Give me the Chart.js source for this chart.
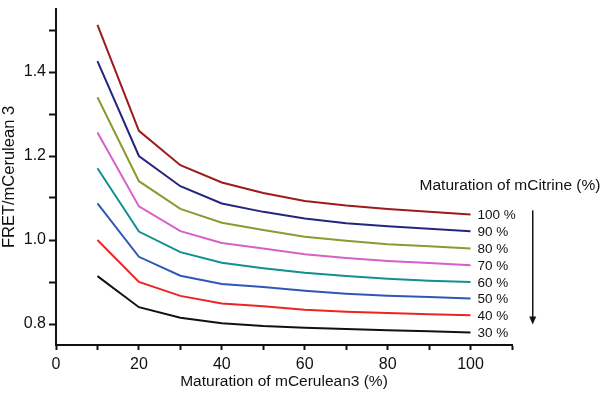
<!DOCTYPE html>
<html>
<head>
<meta charset="utf-8">
<script src="https://cdn.jsdelivr.net/npm/chart.js@4/dist/chart.umd.min.js"></script>
<style>
html,body{margin:0;padding:0;background:#fff;}
#wrap{width:601px;height:402px;}
</style>
</head>
<body>
<div id="wrap"><canvas id="c" width="601" height="402"></canvas></div>
<script>
const xValues = [10, 20, 30, 40, 50, 60, 70, 80, 90, 100];
const m100 = [1.512, 1.260, 1.178, 1.137, 1.112, 1.093, 1.082, 1.074, 1.067, 1.061];
const m90  = [1.426, 1.200, 1.128, 1.087, 1.067, 1.051, 1.040, 1.033, 1.027, 1.021];
const m80  = [1.340, 1.140, 1.074, 1.041, 1.024, 1.008, 0.998, 0.990, 0.985, 0.980];
const m70  = [1.256, 1.080, 1.021, 0.993, 0.980, 0.966, 0.957, 0.950, 0.945, 0.940];
const m60  = [1.171, 1.020, 0.971, 0.946, 0.933, 0.922, 0.914, 0.908, 0.903, 0.900];
const m50  = [1.087, 0.960, 0.915, 0.895, 0.888, 0.879, 0.872, 0.867, 0.864, 0.861];
const m40  = [1.000, 0.900, 0.867, 0.849, 0.842, 0.834, 0.829, 0.826, 0.823, 0.821];
const m30  = [0.914, 0.840, 0.815, 0.802, 0.795, 0.791, 0.788, 0.785, 0.783, 0.780];
const seriesLabels = ['100 %', '90 %', '80 %', '70 %', '60 %', '50 %', '40 %', '30 %'];
const seriesColors = ['#9e1b1b', '#25257f', '#8c9a30', '#d75fca', '#10908f', '#2f58b6', '#ee2424', '#111111'];
const xTickValues = [0, 10, 20, 30, 40, 50, 60, 70, 80, 90, 100, 110];
const xTickLabels = ['0', '', '20', '', '40', '', '60', '', '80', '', '100', ''];
const yTickValues = [0.8, 0.9, 1.0, 1.1, 1.2, 1.3, 1.4, 1.5];
const yTickLabels = ['0.8', '', '1.0', '', '1.2', '', '1.4', ''];
const xTitle = 'Maturation of mCerulean3 (%)';
const yTitle = 'FRET/mCerulean 3';
const legendTitle = 'Maturation of mCitrine (%)';

const allSeries = [m100, m90, m80, m70, m60, m50, m40, m30];
const datasets = allSeries.map((s, i) => ({
  label: seriesLabels[i],
  data: xValues.map((x, j) => ({x: x, y: s[j]})),
  borderColor: seriesColors[i],
  backgroundColor: seriesColors[i],
  borderWidth: 2,
  pointRadius: 0,
  tension: 0,
  fill: false
}));

const FONT = "'Liberation Sans', Arial, sans-serif";

const annotate = {
  id: 'annotate',
  afterDatasetsDraw(chart) {
    const ctx = chart.ctx;
    const xs = chart.scales.x, ys = chart.scales.y;
    ctx.save();
    ctx.fillStyle = '#111';
    ctx.font = '13.5px ' + FONT;
    ctx.textBaseline = 'middle';
    ctx.textAlign = 'left';
    const xEnd = xs.getPixelForValue(xValues[xValues.length - 1]);
    allSeries.forEach((s, i) => {
      const y = ys.getPixelForValue(s[s.length - 1]);
      ctx.fillText(seriesLabels[i], xEnd + 7, y + 1);
    });
    // legend title
    ctx.font = '15.5px ' + FONT;
    ctx.fillText(legendTitle, xEnd - 51, ys.getPixelForValue(m100[m100.length - 1]) - 29);
    // arrow
    const ax = xs.getPixelForValue(115);
    const ay1 = ys.getPixelForValue(m100[m100.length - 1]) - 4;
    const ay2 = ys.getPixelForValue(m30[m30.length - 1]) - 8;
    ctx.strokeStyle = '#111';
    ctx.lineWidth = 1.5;
    ctx.beginPath();
    ctx.moveTo(ax, ay1);
    ctx.lineTo(ax, ay2 - 6);
    ctx.stroke();
    ctx.beginPath();
    ctx.moveTo(ax - 3.5, ay2 - 8);
    ctx.lineTo(ax + 3.5, ay2 - 8);
    ctx.lineTo(ax, ay2);
    ctx.closePath();
    ctx.fill();
    ctx.restore();
  }
};

new Chart(document.getElementById('c'), {
  type: 'line',
  data: { datasets },
  options: {
    responsive: false,
    animation: false,
    devicePixelRatio: 1,
    layout: { padding: { top: 9, right: 89, left: 0, bottom: 0 } },
    plugins: { legend: { display: false }, tooltip: { enabled: false } },
    scales: {
      x: {
        type: 'linear',
        min: 0, max: 110,
        afterBuildTicks: (sc) => { sc.ticks = xTickValues.map(v => ({value: v})); },
        afterFit: (sc) => { sc.height = 57; sc.paddingLeft = 0; sc.paddingRight = 0; },
        ticks: {
          autoSkip: false, maxRotation: 0,
          padding: 5,
          color: '#111',
          font: { family: FONT, size: 16 },
          callback: (v, i) => xTickLabels[i]
        },
        grid: { drawOnChartArea: false, drawTicks: true, tickLength: 5, tickColor: '#111', tickWidth: 2 },
        border: { display: true, color: '#111', width: 2 },
        title: { display: true, text: xTitle, color: '#111', font: { family: FONT, size: 15.5 }, padding: { top: 0, bottom: 11 } }
      },
      y: {
        type: 'linear',
        min: 0.75, max: 1.55,
        afterBuildTicks: (sc) => { sc.ticks = yTickValues.map(v => ({value: v})); },
        afterFit: (sc) => { sc.width = 56; sc.paddingTop = 0; sc.paddingBottom = 0; },
        ticks: {
          autoSkip: false,
          padding: 3,
          color: '#111',
          font: { family: FONT, size: 16 },
          callback: (v, i) => yTickLabels[i]
        },
        grid: { drawOnChartArea: false, drawTicks: true, tickLength: 7, tickColor: '#111', tickWidth: 2 },
        border: { display: true, color: '#111', width: 2 },
        title: { display: true, text: yTitle, color: '#111', font: { family: FONT, size: 16.5 }, padding: { top: 0, bottom: 0 } }
      }
    }
  },
  plugins: [annotate]
});
</script>
</body>
</html>
